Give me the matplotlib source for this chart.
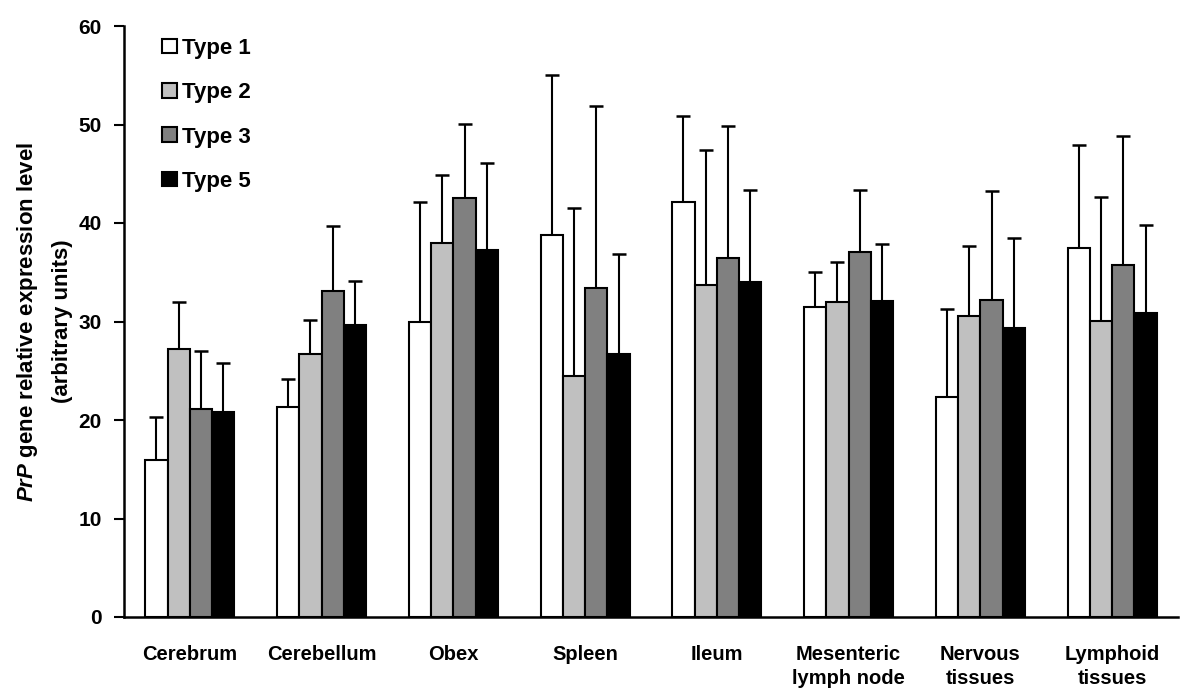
"""Bar chart: PrP gene relative expression level by tissue and type."""

import matplotlib

matplotlib.use("Agg")
matplotlib.rcParams["font.family"] = ["Liberation Sans", "DejaVu Sans"]
matplotlib.rcParams["mathtext.fontset"] = "custom"
matplotlib.rcParams["mathtext.bfit"] = "Liberation Sans:italic:bold"
import matplotlib.pyplot as plt
import numpy as np

tissues = [
    "Cerebrum", "Cerebellum", "Obex", "Spleen", "Ileum",
    "Mesenteric\nlymph node", "Nervous\ntissues", "Lymphoid\ntissues",
]
series_names = ["Type 1", "Type 2", "Type 3", "Type 5"]

type1 = [15.9, 21.3, 30.0, 38.8, 42.1, 31.5, 22.3, 37.5]
type2 = [27.2, 26.7, 38.0, 24.5, 33.7, 32.0, 30.6, 30.1]
type3 = [21.1, 33.1, 42.5, 33.4, 36.4, 37.1, 32.2, 35.7]
type5 = [20.8, 29.6, 37.3, 26.7, 34.0, 32.1, 29.3, 30.9]

# upper error (top of whisker minus bar value)
type1_err = [4.4, 2.9, 12.1, 16.2, 8.8, 3.5, 9.0, 10.4]
type2_err = [4.8, 3.5, 6.9, 17.0, 13.7, 4.0, 7.1, 12.5]
type3_err = [5.9, 6.6, 7.6, 18.5, 13.4, 6.2, 11.0, 13.1]
type5_err = [5.0, 4.5, 8.8, 10.2, 9.3, 5.8, 9.2, 8.9]

colors = ["white", "#c0c0c0", "#808080", "black"]

values = [type1, type2, type3, type5]
errors = [type1_err, type2_err, type3_err, type5_err]

fig = plt.figure(figsize=(12, 6.98), dpi=100)
ax = fig.add_axes([124 / 1200, 1 - 617 / 698, 1054 / 1200, (617 - 26) / 698])

x = np.arange(len(tissues))
width = 0.169
for i, (vals, errs, col, name) in enumerate(zip(values, errors, colors, series_names)):
    pos = x + (i - 1.5) * width
    ax.bar(pos, vals, width, color=col, edgecolor="black", linewidth=1.5,
           label=name, zorder=2)
    ax.errorbar(pos, vals, yerr=[np.zeros(len(errs)), errs], fmt="none",
                ecolor="black", elinewidth=1.5, capsize=5, capthick=1.8,
                zorder=1)

ax.set_xlim(-0.5, len(tissues) - 0.5)
ax.set_ylim(0, 60)
ax.set_yticks(range(0, 61, 10))
ax.set_xticks(x)
ax.set_xticklabels(tissues, fontsize=14.5, fontweight="bold", linespacing=1.35)
ax.tick_params(axis="x", length=0, pad=20)
ax.tick_params(axis="y", direction="out", length=7, width=1.5, labelsize=15,
               pad=9)
for lab in ax.get_yticklabels():
    lab.set_fontweight("bold")

for side in ("top", "right"):
    ax.spines[side].set_visible(False)
for side in ("left", "bottom"):
    ax.spines[side].set_linewidth(1.8)

ax.set_ylabel(r"$\mathbfit{PrP}$ gene relative expression level" "\n(arbitrary units)",
              fontsize=16, fontweight="bold", labelpad=4, linespacing=1.75)

leg = ax.legend(loc="upper left", bbox_to_anchor=(0.028, 0.995), frameon=False,
                fontsize=16, handlelength=0.65, handleheight=0.65,
                handletextpad=0.25, labelspacing=1.05, borderaxespad=0)
for t in leg.get_texts():
    t.set_fontweight("bold")

fig.savefig("out.png", dpi=100)
